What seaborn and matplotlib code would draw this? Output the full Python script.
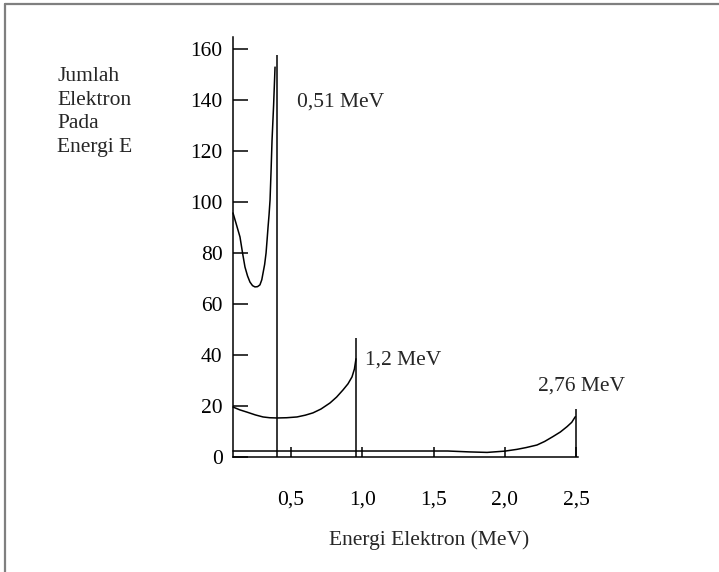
import matplotlib
matplotlib.use("Agg")
import matplotlib.pyplot as plt
import seaborn as sns
import pandas as pd
from matplotlib.lines import Line2D

sns.set_style("white")
plt.rcParams['font.family'] = ['Liberation Serif', 'DejaVu Serif']

# Curve 1 (peak near 0,51 MeV)
c1_x = [0.093, 0.115, 0.142, 0.160, 0.177, 0.195, 0.212, 0.230, 0.247, 0.265,
        0.282, 0.295, 0.304, 0.315, 0.325, 0.332, 0.339, 0.346, 0.353, 0.360,
        0.367, 0.378, 0.388]
c1_y = [95.7, 91.5, 86.3, 80.0, 74.5, 71.0, 68.6, 67.2, 66.7, 66.8,
        67.5, 69.5, 72.2, 75.5, 80.0, 85.0, 90.2, 95.0, 100.8, 112.0,
        124.3, 138.0, 152.9]
# Curve 2 (peak near 1,2 MeV)
c2_x = [0.093, 0.140, 0.191, 0.250, 0.304, 0.350, 0.402, 0.470, 0.542, 0.600,
        0.654, 0.710, 0.774, 0.820, 0.865, 0.900, 0.928, 0.945, 0.956]
c2_y = [19.6, 18.5, 17.6, 16.5, 15.7, 15.4, 15.3, 15.4, 15.7, 16.4,
        17.3, 18.8, 21.2, 23.5, 26.3, 28.7, 31.4, 34.5, 38.5]
# Curve 3 (peak near 2,76 MeV)
c3_x = [0.093, 1.60, 1.75, 1.876, 2.00, 2.086, 2.150, 2.226, 2.280, 2.338,
        2.390, 2.437, 2.470, 2.495]
c3_y = [2.35, 2.35, 2.0, 1.8, 2.3, 3.0, 3.7, 4.7, 6.1, 8.0,
        9.8, 11.9, 13.6, 15.8]

# Edge lines
edge_x = [0.402, 0.954, 2.497]
edge_top = [157.6, 46.7, 18.7]

# Labels
peak_labels = ["0,51 MeV", "1,2 MeV", "2,76 MeV"]
label_x = [0.540, 1.022, 2.234]
label_y = [139.2, 38.0, 27.8]

xticks = [0.5, 1.0, 1.5, 2.0, 2.5]
xtick_labels = ["0,5", "1,0", "1,5", "2,0", "2,5"]
yticks = [0, 20, 40, 60, 80, 100, 120, 140, 160]

fig = plt.figure(figsize=(7.19, 5.72), dpi=100)
ax = fig.add_axes([233/719, (572-457)/572, (578-233)/719, (457-37)/572])

fs = 15.5
for cx, cy in [(c1_x, c1_y), (c2_x, c2_y), (c3_x, c3_y)]:
    df = pd.DataFrame({"x": cx, "y": cy})
    sns.lineplot(data=df, x="x", y="y", ax=ax, color="black", lw=1.1,
                 estimator=None, sort=False, clip_on=False)

ax.vlines(edge_x, 0, edge_top, color="black", lw=1.1, clip_on=False)

for t, lx, ly in zip(peak_labels, label_x, label_y):
    ax.text(lx, ly, t, fontsize=fs, ha="left", va="center")

ax.set_xlim(0.093, 2.514)
ax.set_ylim(0, 164.7)
ax.set_xticks(xticks)
ax.set_xticklabels(xtick_labels)
ax.set_yticks(yticks)
ax.set_xlabel("")
ax.set_ylabel("")
for s in ["top", "right"]:
    ax.spines[s].set_visible(False)
for s in ["left", "bottom"]:
    ax.spines[s].set_color("black")
    ax.spines[s].set_linewidth(1.1)
ax.tick_params(axis="y", direction="in", length=10.5, width=1.1, pad=7.5,
               labelsize=fs, colors="black", left=True)
ax.tick_params(axis="x", direction="in", length=7, width=1.1, pad=24,
               labelsize=fs, colors="black", bottom=True)
ax.grid(False)

fig.text(57/719, 1 - 67/572, "Jumlah\nElektron\nPada\nEnergi E", fontsize=fs,
         ha="left", va="top", linespacing=1.33,
         transform=fig.transFigure)
fig.text(429/719, 1 - 540/572, "Energi Elektron (MeV)", fontsize=fs,
         ha="center", va="center")

# Figure frame (left and top only)
fig.add_artist(Line2D([5/719, 5/719], [0, 1 - 4/572], transform=fig.transFigure,
                      color="#7f7f7f", lw=1.6))
fig.add_artist(Line2D([5/719, 1], [1 - 4/572, 1 - 4/572], transform=fig.transFigure,
                      color="#7f7f7f", lw=1.6))

fig.savefig("out.png", dpi=100)
